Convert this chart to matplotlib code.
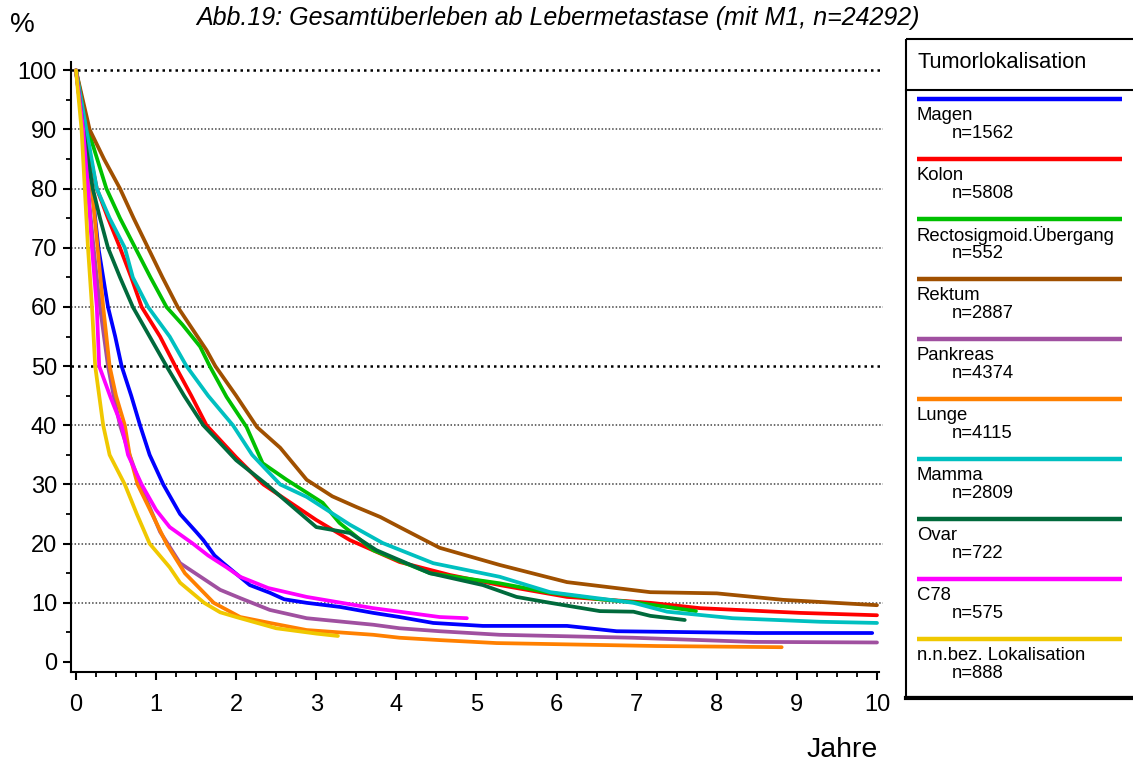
import matplotlib
matplotlib.use("Agg")
import matplotlib.pyplot as plt
from matplotlib.ticker import MultipleLocator
from matplotlib.patches import Rectangle

plt.rcParams['font.family'] = ['Liberation Sans', 'DejaVu Sans']

# Kaplan-Meier curves: time in years, survival in %
names = ["Magen", "Kolon", "Rectosigmoid.Übergang", "Rektum", "Pankreas",
         "Lunge", "Mamma", "Ovar", "C78", "n.n.bez. Lokalisation"]
counts = [1562, 5808, 552, 2887, 4374, 4115, 2809, 722, 575, 888]
colors = ["#0000ff", "#ff0000", "#00c000", "#a05000", "#a050a0",
          "#ff8000", "#00c0c0", "#006a3c", "#ff00ff", "#f0c800"]

magen_t = [0, 0.1, 0.2, 0.28, 0.4, 0.49, 0.57, 0.69, 0.8, 0.92, 1.09, 1.3, 1.5, 1.59, 1.73, 1.84, 2.17, 2.42, 2.6, 2.88, 3.3, 3.71, 4.04, 4.46, 5.08, 6.13, 6.75, 8.5, 9.94]
magen_s = [100, 90, 80, 70, 60, 55, 50, 45, 40, 35, 30, 25, 22, 20.6, 18, 16.7, 13, 11.7, 10.6, 10, 9.3, 8.3, 7.6, 6.6, 6.1, 6.1, 5.2, 4.9, 4.9]

kolon_t = [0, 0.11, 0.26, 0.4, 0.55, 0.69, 0.82, 1.05, 1.24, 1.44, 1.63, 2.0, 2.34, 2.67, 3.0, 3.42, 4.04, 4.67, 5.29, 6.13, 7.17, 7.79, 9.04, 10.0]
kolon_s = [100, 90, 80, 75, 70, 65, 60, 55, 50, 45, 40, 34.6, 30, 27, 24, 20.6, 16.9, 14.7, 13, 11, 10, 9.1, 8.3, 7.9]

rsig_t = [0, 0.15, 0.38, 0.55, 0.74, 0.93, 1.13, 1.33, 1.55, 1.67, 1.88, 2.13, 2.33, 2.63, 3.08, 3.29, 3.71, 4.42, 5.29, 5.92, 6.54, 6.96, 7.38, 7.74]
rsig_s = [100, 90, 80, 75, 70, 65, 60, 57, 53.3, 50, 44.8, 39.7, 33.6, 30.8, 26.9, 23.5, 18.9, 15, 13.3, 11.7, 10.6, 10.1, 9.3, 8.6]

rektum_t = [0, 0.17, 0.35, 0.55, 0.72, 0.9, 1.08, 1.27, 1.63, 1.74, 2.0, 2.26, 2.55, 2.88, 3.2, 3.5, 3.8, 4.04, 4.54, 5.29, 6.13, 7.17, 8.0, 8.83, 10.0]
rektum_s = [100, 90, 85, 80, 75, 70, 65, 60, 52.7, 50, 45, 39.7, 36.2, 30.8, 28, 26.2, 24.5, 22.8, 19.3, 16.4, 13.5, 11.8, 11.6, 10.5, 9.6]

pankreas_t = [0, 0.09, 0.15, 0.22, 0.3, 0.4, 0.47, 0.55, 0.67, 0.8, 1.05, 1.3, 1.8, 2.05, 2.42, 2.88, 3.71, 4.04, 4.54, 5.29, 6.95, 8.45, 10.0]
pankreas_s = [100, 90, 80, 70, 60, 50, 45, 40, 35, 30, 22, 16.7, 12.2, 10.8, 8.8, 7.4, 6.3, 5.7, 5.2, 4.6, 4.1, 3.4, 3.3]

lunge_t = [0, 0.11, 0.2, 0.27, 0.34, 0.42, 0.5, 0.61, 0.67, 0.77, 0.95, 1.13, 1.36, 1.72, 2.05, 2.42, 2.88, 3.71, 4.04, 4.54, 5.25, 7.25, 8.81]
lunge_s = [100, 90, 80, 70, 60, 50, 45, 40, 35, 30, 25, 20, 15, 10, 7.6, 6.6, 5.4, 4.6, 4.1, 3.7, 3.2, 2.7, 2.5]

mamma_t = [0, 0.13, 0.26, 0.42, 0.61, 0.71, 0.9, 1.17, 1.38, 1.65, 1.96, 2.2, 2.55, 2.88, 3.42, 3.83, 4.46, 5.29, 5.92, 6.96, 7.38, 8.2, 9.29, 10.0]
mamma_s = [100, 90, 80, 75, 70, 65, 60, 55, 50, 45, 40, 35, 30, 27.9, 23.2, 20.1, 16.7, 14.4, 11.8, 10, 8.5, 7.4, 6.8, 6.6]

ovar_t = [0, 0.09, 0.21, 0.3, 0.4, 0.55, 0.71, 0.92, 1.13, 1.35, 1.59, 1.8, 2.0, 2.38, 3.0, 3.42, 3.75, 4.42, 5.08, 5.5, 5.92, 6.54, 6.96, 7.17, 7.6]
ovar_s = [100, 90, 80, 75, 70, 65, 60, 55, 50, 45, 40, 37, 34.1, 30, 22.8, 21.8, 18.9, 15, 13, 11, 10, 8.6, 8.5, 7.8, 7.1]

c78_t = [0, 0.09, 0.15, 0.2, 0.26, 0.29, 0.43, 0.57, 0.65, 0.82, 1.0, 1.17, 1.46, 1.65, 1.88, 2.05, 2.4, 2.88, 3.71, 4.54, 4.88]
c78_s = [100, 90, 80, 70, 60, 50, 44.8, 40, 35, 30, 25.7, 22.8, 20, 18, 16, 14.4, 12.5, 11, 9.1, 7.6, 7.4]

nnbez_t = [0, 0.07, 0.11, 0.15, 0.2, 0.24, 0.34, 0.42, 0.61, 0.76, 0.92, 1.17, 1.3, 1.6, 1.8, 2.0, 2.5, 3.0, 3.27]
nnbez_s = [100, 90, 80, 70, 60, 50, 40, 35, 30, 25, 20, 16, 13.4, 10, 8.4, 7.6, 5.7, 4.8, 4.4]

series_t = [magen_t, kolon_t, rsig_t, rektum_t, pankreas_t, lunge_t, mamma_t, ovar_t, c78_t, nnbez_t]
series_s = [magen_s, kolon_s, rsig_s, rektum_s, pankreas_s, lunge_s, mamma_s, ovar_s, c78_s, nnbez_s]

W, H = 1133, 767
fig = plt.figure(figsize=(W / 100, H / 100), dpi=100)
ax = fig.add_axes([71 / W, 1 - 672 / H, (879 - 71) / W, (672 - 62) / H])
ax.set_xlim(-0.062, 10.025)
ax.set_ylim(-1.69, 101.4)

# dotted grid, 50 and 100 heavier
for g in range(10, 101, 10):
    strong = g in (50, 100)
    ax.plot([-0.062, 10.07], [g, g], color="black" if strong else "#444444",
            lw=1.8 if strong else 1.1, ls=(0, (1, 1.6)) if strong else (0, (1, 1.3)),
            clip_on=False, zorder=1)

for t, s, c in zip(series_t, series_s, colors):
    ax.plot(t, s, color=c, lw=2.7, solid_capstyle="round", solid_joinstyle="round", zorder=3)

for side in ("top", "right"):
    ax.spines[side].set_visible(False)
for side in ("left", "bottom"):
    ax.spines[side].set_linewidth(1.5)

ax.xaxis.set_major_locator(MultipleLocator(1))
ax.xaxis.set_minor_locator(MultipleLocator(0.25))
ax.yaxis.set_major_locator(MultipleLocator(10))
ax.yaxis.set_minor_locator(MultipleLocator(5))
ax.tick_params(axis="both", which="major", length=6, width=1.5, labelsize=17)
ax.tick_params(axis="both", which="minor", length=3.5, width=1.3)
ax.tick_params(axis="x", which="major", pad=10)
ax.tick_params(axis="y", which="major", pad=4)

fig.text(558 / W, 1 - 18 / H, "Abb.19: Gesamtüberleben ab Lebermetastase (mit M1, n=24292)",
         ha="center", va="center", fontsize=18, style="italic")
fig.text(22 / W, 1 - 25 / H, "%", ha="center", va="center", fontsize=20)
fig.text(842 / W, 1 - 750 / H, "Jahre", ha="center", va="center", fontsize=20.5)

# legend panel in pixel coordinates
lg = fig.add_axes([905 / W, 1 - 700 / H, (W - 905) / W, (700 - 39) / H])
lg.set_xlim(905, W)
lg.set_ylim(700, 39)
lg.axis("off")
lg.add_patch(Rectangle((906, 39), 240, 658, fill=False, lw=1.5, ec="black", clip_on=False))
lg.plot([906, 1140], [698.5, 698.5], color="black", lw=3, clip_on=False)
lg.plot([906, 1140], [90.5, 90.5], color="black", lw=1.5, clip_on=False)
lg.text(917, 63, "Tumorlokalisation", ha="left", va="center", fontsize=15.7)
for i, (name, n, c) in enumerate(zip(names, counts, colors)):
    y0 = 99 + 60 * i
    lg.plot([917, 1122], [y0, y0], color=c, lw=3.2, solid_capstyle="butt")
    lg.text(917, y0 + 17, name, ha="left", va="center", fontsize=13.3)
    lg.text(952, y0 + 35, f"n={n}", ha="left", va="center", fontsize=13.3)

fig.savefig("out.png", dpi=100)
